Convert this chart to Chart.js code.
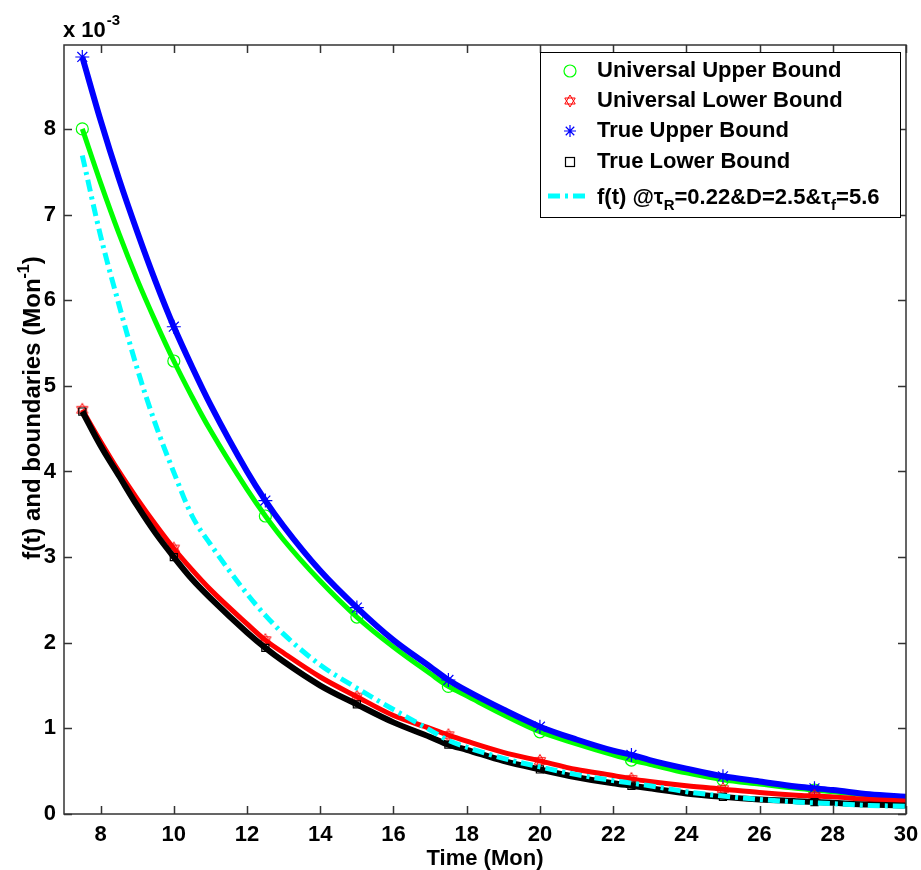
<!DOCTYPE html>
<html>
<head>
<meta charset="utf-8">
<script src="https://cdn.jsdelivr.net/npm/chart.js@4.4.1/dist/chart.umd.min.js"></script>
<style>
  body { margin: 0; background: #fff; }
  #wrap { width: 921px; height: 870px; }
</style>
</head>
<body>
<div id="wrap"><canvas id="boundChart" width="921" height="870"></canvas></div>
<script>
// time axis (months) and the values, in units of 10^-3 Mon^-1
const times = [7.5, 8, 8.5, 9, 9.5, 10, 10.5, 11, 12, 12.5, 13, 14, 15, 16, 17, 17.5, 18, 19, 20, 21, 22, 22.5, 23, 24, 25, 26, 27, 27.5, 28, 29, 30];
const markerTimes = [7.5, 10, 12.5, 15, 17.5, 20, 22.5, 25, 27.5];

const universalUpper = [8.0, 7.37, 6.78, 6.24, 5.75, 5.29, 4.87, 4.48, 3.79, 3.48, 3.2, 2.72, 2.30, 1.95, 1.64, 1.49, 1.38, 1.16, 0.96, 0.82, 0.69, 0.63, 0.58, 0.48, 0.40, 0.35, 0.30, 0.28, 0.26, 0.22, 0.18];
const universalLower = [4.72, 4.35, 4.0, 3.68, 3.38, 3.1, 2.85, 2.62, 2.22, 2.03, 1.88, 1.6, 1.37, 1.15, 1.0, 0.92, 0.85, 0.72, 0.62, 0.52, 0.45, 0.41, 0.38, 0.33, 0.29, 0.25, 0.22, 0.21, 0.2, 0.17, 0.15];
const trueUpper = [8.84, 8.1, 7.42, 6.8, 6.22, 5.69, 5.22, 4.78, 4.0, 3.66, 3.36, 2.84, 2.41, 2.03, 1.72, 1.565, 1.44, 1.22, 1.02, 0.87, 0.74, 0.69, 0.63, 0.53, 0.44, 0.38, 0.32, 0.30, 0.28, 0.23, 0.2];
const trueLower = [4.7, 4.3, 3.95, 3.6, 3.28, 3.0, 2.74, 2.52, 2.12, 1.94, 1.78, 1.5, 1.28, 1.07, 0.9, 0.81, 0.75, 0.62, 0.52, 0.43, 0.36, 0.33, 0.3, 0.24, 0.2, 0.17, 0.15, 0.14, 0.13, 0.11, 0.1];
const fModel = [7.69, 6.75, 5.95, 5.2, 4.55, 3.99, 3.48, 3.15, 2.57, 2.32, 2.1, 1.74, 1.47, 1.22, 0.98, 0.86, 0.78, 0.65, 0.55, 0.46, 0.39, 0.36, 0.33, 0.26, 0.21, 0.17, 0.14, 0.13, 0.12, 0.1, 0.09];

const xTicks = [8, 10, 12, 14, 16, 18, 20, 22, 24, 26, 28, 30];
const yTicks = [0, 1, 2, 3, 4, 5, 6, 7, 8];

const FONT = "'Liberation Sans', Arial, sans-serif";

function toPoints(values) {
    return times.map((t, i) => ({ x: t, y: values[i] }));
}
function markerSizes(r) {
    return times.map(t => markerTimes.includes(t) ? r : 0);
}

function drawHexagram(ctx, x, y, r, color) {
    ctx.save();
    ctx.strokeStyle = color;
    ctx.lineWidth = 1;
    for (let k = 0; k < 2; k++) {
        ctx.beginPath();
        for (let j = 0; j < 3; j++) {
            const a = -Math.PI / 2 + k * Math.PI + j * 2 * Math.PI / 3;
            const px = x + r * Math.cos(a), py = y + r * Math.sin(a);
            if (j === 0) ctx.moveTo(px, py); else ctx.lineTo(px, py);
        }
        ctx.closePath();
        ctx.stroke();
    }
    ctx.restore();
}

// red six-pointed star used as point style
const hexIcon = document.createElement('canvas');
hexIcon.width = 16; hexIcon.height = 16;
drawHexagram(hexIcon.getContext('2d'), 8, 8, 6.5, '#ff0000');

function drawAsterisk(ctx, x, y, r, color) {
    ctx.save();
    ctx.strokeStyle = color;
    ctx.lineWidth = 1.2;
    ctx.beginPath();
    for (let k = 0; k < 4; k++) {
        const a = k * Math.PI / 4;
        ctx.moveTo(x - r * Math.cos(a), y - r * Math.sin(a));
        ctx.lineTo(x + r * Math.cos(a), y + r * Math.sin(a));
    }
    ctx.stroke();
    ctx.restore();
}

// box, inward ticks on all sides, legend and axis titles (MATLAB look)
const decorations = {
    id: 'decorations',
    afterDatasetsDraw(chart) {
        const ctx = chart.ctx;
        const a = chart.chartArea;
        const sx = chart.scales.x, sy = chart.scales.y;
        ctx.save();
        ctx.strokeStyle = '#333';
        ctx.lineWidth = 1.5;
        ctx.strokeRect(a.left, a.top, a.right - a.left, a.bottom - a.top);
        ctx.beginPath();
        xTicks.forEach(v => {
            const px = Math.round(sx.getPixelForValue(v)) + 0.5;
            ctx.moveTo(px, a.bottom); ctx.lineTo(px, a.bottom - 8);
            ctx.moveTo(px, a.top); ctx.lineTo(px, a.top + 8);
        });
        yTicks.forEach(v => {
            const py = Math.round(sy.getPixelForValue(v)) + 0.5;
            ctx.moveTo(a.left, py); ctx.lineTo(a.left + 8, py);
            ctx.moveTo(a.right, py); ctx.lineTo(a.right - 8, py);
        });
        ctx.stroke();

        // legend
        const bold = 'bold 22px ' + FONT;
        const small = 'bold 15px ' + FONT;
        ctx.font = bold;
        const textX = 597;
        const parts = [['f(t) @\u03C4', false], ['R', true], ['=0.22&D=2.5&\u03C4', false], ['f', true], ['=5.6', false]];
        let lastW = 0;
        parts.forEach(p => { ctx.font = p[1] ? small : bold; lastW += ctx.measureText(p[0]).width; });
        const boxL = 540, boxT = 52, boxB = 217;
        const boxR = Math.max(900, textX + lastW + 8);
        ctx.fillStyle = '#fff';
        ctx.fillRect(boxL, boxT, boxR - boxL, boxB - boxT);
        ctx.strokeStyle = '#000';
        ctx.lineWidth = 1;
        ctx.strokeRect(boxL + 0.5, boxT + 0.5, boxR - boxL, boxB - boxT);

        const rows = [71, 101, 131, 162, 196];
        const mx = 570;
        ctx.strokeStyle = '#00ff00'; ctx.lineWidth = 1.2;
        ctx.beginPath(); ctx.arc(mx, rows[0], 6, 0, 2 * Math.PI); ctx.stroke();
        drawHexagram(ctx, mx, rows[1], 6, '#ff0000');
        drawAsterisk(ctx, mx, rows[2], 6, '#0000ff');
        ctx.strokeStyle = '#000'; ctx.lineWidth = 1.2;
        ctx.strokeRect(mx - 4.5, rows[3] - 4.5, 9, 9);
        ctx.strokeStyle = '#00ffff'; ctx.lineWidth = 5;
        ctx.setLineDash([12, 5, 3, 5]);
        ctx.beginPath(); ctx.moveTo(548, rows[4]); ctx.lineTo(588, rows[4]); ctx.stroke();
        ctx.setLineDash([]);

        ctx.fillStyle = '#000';
        ctx.textBaseline = 'middle';
        ctx.textAlign = 'left';
        ctx.font = bold;
        ['Universal Upper Bound', 'Universal Lower Bound', 'True Upper Bound', 'True Lower Bound'].forEach((s, i) => {
            ctx.fillText(s, textX, rows[i]);
        });
        let cx = textX;
        ctx.textBaseline = 'alphabetic';
        const base = rows[4] + 8;
        parts.forEach(p => {
            ctx.font = p[1] ? small : bold;
            ctx.fillText(p[0], cx, p[1] ? base + 6 : base);
            cx += ctx.measureText(p[0]).width;
        });

        // exponent label
        ctx.font = bold;
        ctx.fillText('x 10', 63, 37);
        const w10 = ctx.measureText('x 10').width;
        ctx.font = small;
        ctx.fillText('-3', 63 + w10 + 1, 25);

        // x title
        ctx.font = bold;
        ctx.textAlign = 'center';
        ctx.fillText('Time (Mon)', (a.left + a.right) / 2, 865);

        // y title with superscript
        const yBold = 'bold 24px ' + FONT;
        const ySmall = 'bold 16px ' + FONT;
        ctx.save();
        ctx.translate(40, 408);
        ctx.rotate(-Math.PI / 2);
        ctx.textAlign = 'left';
        const yMain = 'f(t) and boundaries (Mon';
        ctx.font = yBold;
        const wMain = ctx.measureText(yMain).width;
        ctx.font = ySmall;
        const wSup = ctx.measureText('-1').width;
        ctx.font = yBold;
        const wEnd = ctx.measureText(')').width;
        let yx = -(wMain + wSup + wEnd) / 2;
        ctx.fillText(yMain, yx, 0);
        yx += wMain;
        ctx.font = ySmall;
        ctx.fillText('-1', yx, -11);
        yx += wSup;
        ctx.font = yBold;
        ctx.fillText(')', yx, 0);
        ctx.restore();

        ctx.restore();
    }
};

const ctx = document.getElementById('boundChart').getContext('2d');
new Chart(ctx, {
    type: 'line',
    data: {
        datasets: [
            {
                label: 'f(t) @tauR=0.22&D=2.5&tauf=5.6',
                data: toPoints(fModel),
                borderColor: '#00ffff',
                borderWidth: 5,
                borderDash: [12, 5, 3, 5],
                pointRadius: 0,
                order: 1
            },
            {
                label: 'True Lower Bound',
                data: toPoints(trueLower),
                borderColor: '#000000',
                borderWidth: 6,
                pointStyle: 'rect',
                pointRadius: markerSizes(5),
                pointBorderColor: '#000000',
                pointBackgroundColor: 'rgba(0,0,0,0)',
                pointBorderWidth: 1.2,
                order: 2
            },
            {
                label: 'Universal Lower Bound',
                data: toPoints(universalLower),
                borderColor: '#ff0000',
                borderWidth: 5,
                pointStyle: hexIcon,
                pointRadius: markerSizes(7),
                order: 3
            },
            {
                label: 'True Upper Bound',
                data: toPoints(trueUpper),
                borderColor: '#0000ff',
                borderWidth: 6,
                pointStyle: 'star',
                pointRadius: markerSizes(7),
                pointBorderColor: '#0000ff',
                pointBackgroundColor: 'rgba(0,0,0,0)',
                pointBorderWidth: 1.2,
                order: 4
            },
            {
                label: 'Universal Upper Bound',
                data: toPoints(universalUpper),
                borderColor: '#00ff00',
                borderWidth: 5,
                pointStyle: 'circle',
                pointRadius: markerSizes(6),
                pointBorderColor: '#00ff00',
                pointBackgroundColor: 'rgba(0,0,0,0)',
                pointBorderWidth: 1.2,
                order: 5
            }
        ]
    },
    options: {
        responsive: false,
        animation: false,
        layout: { padding: { top: 45, right: 15, left: 0, bottom: 0 } },
        elements: { line: { tension: 0.3, cubicInterpolationMode: 'monotone' } },
        plugins: {
            legend: { display: false },
            tooltip: { enabled: false }
        },
        scales: {
            x: {
                type: 'linear',
                min: 7,
                max: 30,
                grid: { display: false },
                border: { display: false },
                afterBuildTicks: s => { s.ticks = xTicks.map(v => ({ value: v })); },
                afterFit: s => { s.height = 56; s.paddingLeft = 0; s.paddingRight = 0; },
                ticks: {
                    color: '#000',
                    padding: 0,
                    maxRotation: 0,
                    font: { family: FONT, size: 22, weight: 'bold' }
                }
            },
            y: {
                min: 0,
                max: 8.98,
                grid: { display: false },
                border: { display: false },
                afterBuildTicks: s => { s.ticks = yTicks.map(v => ({ value: v })); },
                afterFit: s => { s.width = 64; s.paddingTop = 0; s.paddingBottom = 0; },
                ticks: {
                    color: '#000',
                    padding: 0,
                    font: { family: FONT, size: 22, weight: 'bold' }
                }
            }
        }
    },
    plugins: [decorations]
});
</script>
</body>
</html>
